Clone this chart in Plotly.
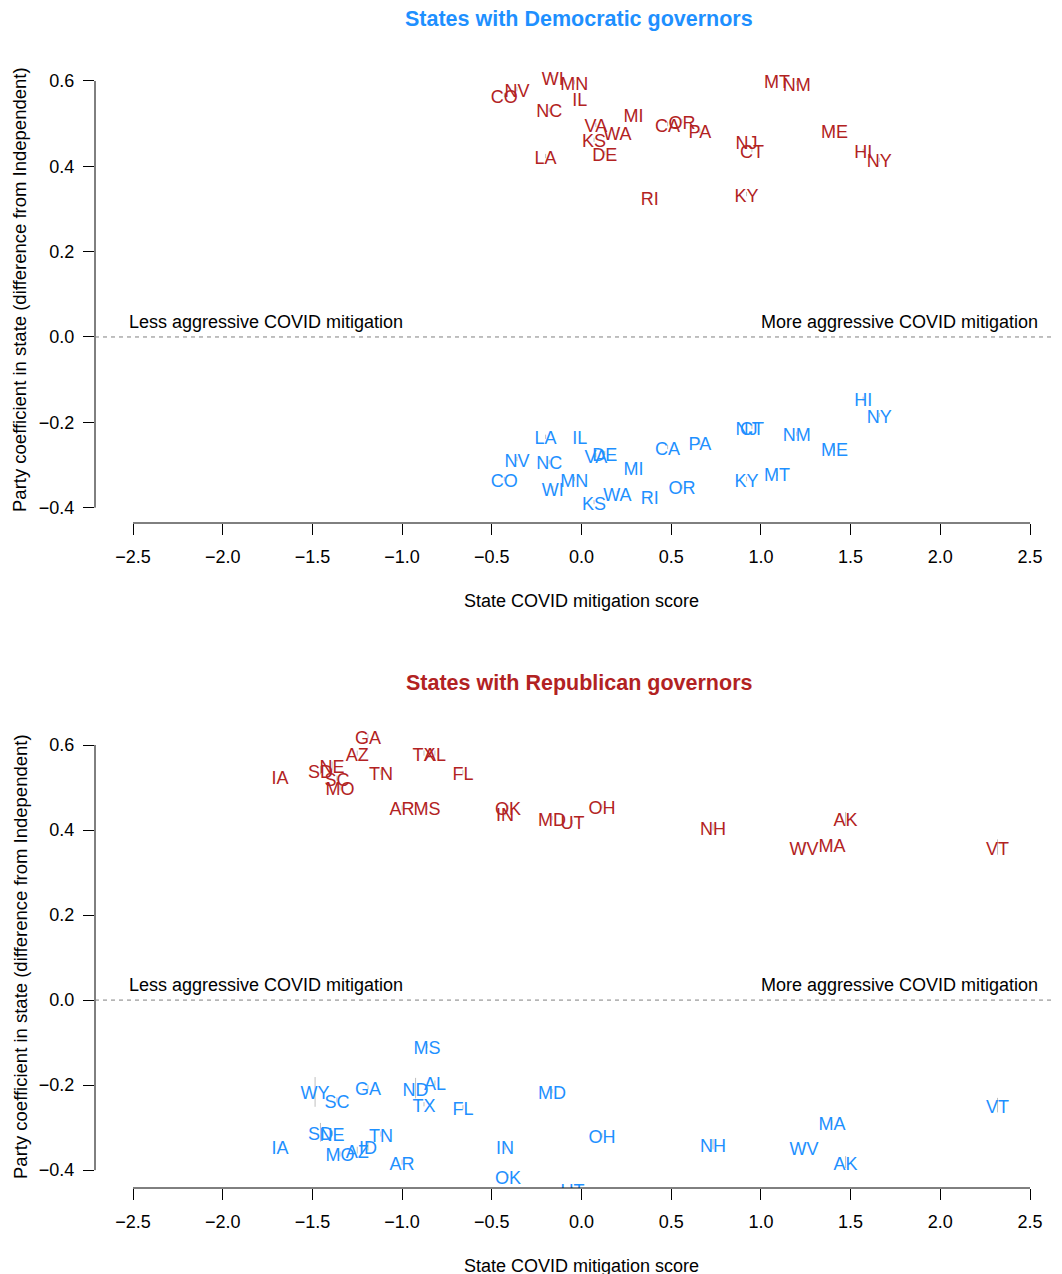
import plotly.graph_objects as go

RED = "#B22222"
BLUE = "#1E90FF"
FONT = "Liberation Sans, Arial, sans-serif"

# ---------------- Data: states with Democratic governors ----------------
dem_states = ["CO", "NV", "WI", "MN", "IL", "NC", "VA", "WA", "KS", "DE", "LA", "MI",
              "CA", "OR", "PA", "NJ", "CT", "RI", "KY", "MT", "NM", "ME", "HI", "NY"]
dem_score = [-0.43, -0.36, -0.16, -0.04, -0.01, -0.18, 0.08, 0.20, 0.07, 0.13, -0.20, 0.29,
             0.48, 0.56, 0.66, 0.92, 0.95, 0.38, 0.92, 1.09, 1.20, 1.41, 1.57, 1.66]
dem_rep_coef = [0.567, 0.581, 0.609, 0.597, 0.558, 0.532, 0.497, 0.480, 0.462, 0.431, 0.424, 0.522,
                0.499, 0.506, 0.483, 0.457, 0.438, 0.326, 0.335, 0.602, 0.595, 0.485, 0.436, 0.415]
dem_rep_err = [0.005] * 24
dem_dem_coef = [-0.333, -0.286, -0.354, -0.333, -0.234, -0.293, -0.277, -0.366, -0.387, -0.272, -0.234, -0.305,
                -0.258, -0.351, -0.248, -0.211, -0.211, -0.375, -0.333, -0.321, -0.227, -0.262, -0.145, -0.183]
dem_dem_err = [0.005] * 24

# ---------------- Data: states with Republican governors ----------------
rep_states = ["IA", "SD", "WY", "NE", "SC", "MO", "AZ", "GA", "ID", "TN", "AR", "ND", "TX",
              "MS", "AL", "FL", "OK", "IN", "MD", "UT", "OH", "NH", "WV", "MA", "AK", "VT"]
rep_score = [-1.68, -1.455, -1.485, -1.39, -1.363, -1.346, -1.25, -1.19, -1.19, -1.118, -1.00, -0.925, -0.878,
             -0.861, -0.817, -0.661, -0.41, -0.426, -0.164, -0.05, 0.114, 0.733, 1.24, 1.396, 1.472, 2.319]
rep_rep_coef = [0.525, 0.541, None, 0.551, 0.522, 0.499, 0.581, 0.621, None, 0.536, 0.452, None, 0.581,
                0.452, 0.581, 0.536, 0.454, 0.440, 0.428, 0.419, 0.456, 0.407, 0.359, 0.367, 0.426, 0.360]
rep_rep_err = [0.005, 0.010, 0.0, 0.010, 0.006, 0.006, 0.006, 0.005, 0.0, 0.006, 0.006, 0.0, 0.006,
               0.005, 0.006, 0.005, 0.005, 0.006, 0.005, 0.005, 0.005, 0.008, 0.012, 0.010, 0.016, 0.018]
rep_dem_coef = [-0.344, -0.311, -0.216, -0.313, -0.235, -0.362, -0.353, -0.205, -0.344, -0.315, -0.381, -0.207, -0.245,
                -0.108, -0.195, -0.252, -0.414, -0.344, -0.214, -0.446, -0.318, -0.339, -0.346, -0.289, -0.381, -0.247]
rep_dem_err = [0.005, 0.022, 0.035, 0.006, 0.006, 0.006, 0.008, 0.005, 0.010, 0.006, 0.006, 0.024, 0.005,
               0.005, 0.006, 0.005, 0.005, 0.008, 0.005, 0.005, 0.005, 0.012, 0.006, 0.006, 0.014, 0.017]

x_ticks = [-2.5, -2.0, -1.5, -1.0, -0.5, 0.0, 0.5, 1.0, 1.5, 2.0, 2.5]
y_ticks = [-0.4, -0.2, 0.0, 0.2, 0.4, 0.6]

panels = [
    dict(title="States with Democratic governors", tcolor=BLUE, states=dem_states, score=dem_score,
         rep=dem_rep_coef, rep_err=dem_rep_err, dem=dem_dem_coef, dem_err=dem_dem_err,
         xa="x", ya="y", ta="y3"),
    dict(title="States with Republican governors", tcolor=RED, states=rep_states, score=rep_score,
         rep=rep_rep_coef, rep_err=rep_rep_err, dem=rep_dem_coef, dem_err=rep_dem_err,
         xa="x2", ya="y2", ta="y4"),
]

fig = go.Figure()
OFF = 8                      # page body margin offset
W, H = 1062 - OFF, 1274 - OFF

for p in panels:
    for coef, err, col in [(p["rep"], p["rep_err"], RED), (p["dem"], p["dem_err"], BLUE)]:
        # faint interval lines
        fig.add_trace(go.Scatter(
            x=p["score"], y=coef, mode="markers",
            marker=dict(size=1, color="rgba(0,0,0,0)"),
            error_y=dict(type="data", array=err, visible=True, width=0, thickness=1,
                         color="rgba(140,140,140,0.55)"),
            xaxis=p["xa"], yaxis=p["ya"], showlegend=False, hoverinfo="skip"))
        # state labels (on a twin axis nudged so glyphs are vertically centred like R's text())
        fig.add_trace(go.Scatter(
            x=p["score"], y=coef, mode="text", text=p["states"],
            textposition="middle center",
            textfont=dict(family=FONT, size=18, color=col),
            cliponaxis=True,
            xaxis=p["xa"], yaxis=p["ta"], showlegend=False))

# plot regions (reference-window pixels)
top_px = (60, 523)
bot_px = (722, 1188)
x_px = (95, 1058)
x_range = [(x_px[0] - 581.5) / 179.4, (x_px[1] - 581.5) / 179.4]
top_range = [-0.436, (337 - top_px[0]) / 426.7]
bot_range = [-0.442, (1000 - bot_px[0]) / 425.0]
nudge_top = 3.0 / 426.7
nudge_bot = 3.0 / 425.0

def fy(py):
    return 1 - (py - OFF) / H

def fx(px):
    return (px - OFF) / W

def dom(px):
    return [fy(px[1]), fy(px[0])]

axis_common = dict(showgrid=False, zeroline=False, showline=False, ticks="outside",
                   ticklen=11, tickwidth=1, tickcolor="black",
                   tickfont=dict(family=FONT, size=18, color="black"))

fig.update_layout(
    width=W, height=H, margin=dict(l=0, r=0, t=0, b=0),
    paper_bgcolor="white", plot_bgcolor="white",
    xaxis=dict(domain=[fx(x_px[0]), min(1, fx(x_px[1]))], range=x_range, anchor="y",
               tickvals=x_ticks, tickformat=".1f", ticklabelstandoff=6, **axis_common),
    yaxis=dict(domain=dom(top_px), range=top_range, anchor="x",
               tickvals=y_ticks, tickformat=".1f", ticklabelstandoff=5, **axis_common),
    xaxis2=dict(domain=[fx(x_px[0]), min(1, fx(x_px[1]))], range=x_range, anchor="y2",
                tickvals=x_ticks, tickformat=".1f", ticklabelstandoff=6, **axis_common),
    yaxis2=dict(domain=dom(bot_px), range=bot_range, anchor="x2",
                tickvals=y_ticks, tickformat=".1f", ticklabelstandoff=5, **axis_common),
    yaxis3=dict(domain=dom(top_px), overlaying="y", anchor="x", visible=False,
                range=[top_range[0] + nudge_top, top_range[1] + nudge_top]),
    yaxis4=dict(domain=dom(bot_px), overlaying="y2", anchor="x2", visible=False,
                range=[bot_range[0] + nudge_bot, bot_range[1] + nudge_bot]),
)

shapes = []
annotations = []
for p, px, sfx, ymid in [(panels[0], top_px, "", 290), (panels[1], bot_px, "2", 957)]:
    xr, yr = "x" + sfx, "y" + sfx
    # R-style axis lines spanning first to last tick
    shapes.append(dict(type="line", xref=xr, yref=yr + " domain", x0=x_ticks[0], x1=x_ticks[-1],
                       y0=0, y1=0, line=dict(color="black", width=1)))
    shapes.append(dict(type="line", xref=xr + " domain", yref=yr, x0=0, x1=0,
                       y0=y_ticks[0], y1=y_ticks[-1], line=dict(color="black", width=1)))
    # zero reference line
    shapes.append(dict(type="line", xref=xr + " domain", yref=yr, x0=0, x1=1, y0=0, y1=0,
                       line=dict(color="#808080", width=1, dash="4px,4px")))
    annotations.append(dict(xref=xr, yref=yr, x=-2.535, y=0.035, xanchor="left", yanchor="middle",
                            text="Less aggressive COVID mitigation", showarrow=False,
                            font=dict(family=FONT, size=18, color="black")))
    annotations.append(dict(xref=xr, yref=yr, x=2.558, y=0.035, xanchor="right", yanchor="middle",
                            text="More aggressive COVID mitigation", showarrow=False,
                            font=dict(family=FONT, size=18, color="black")))
    # title
    annotations.append(dict(xref="paper", yref="paper", x=fx(579), y=fy(19 if sfx == "" else 683),
                            xanchor="center", yanchor="middle", text="<b>%s</b>" % p["title"],
                            showarrow=False, font=dict(family=FONT, size=21.5, color=p["tcolor"])))
    # x axis title
    annotations.append(dict(xref="paper", yref="paper", x=fx(581), y=fy(px[1] + 78),
                            xanchor="center", yanchor="middle", text="State COVID mitigation score",
                            showarrow=False, font=dict(family=FONT, size=18, color="black")))
    # y axis title
    annotations.append(dict(xref="paper", yref="paper", x=fx(20), y=fy(ymid),
                            xanchor="center", yanchor="middle", textangle=-90,
                            text="Party coefficient in state (difference from Independent)",
                            showarrow=False, font=dict(family=FONT, size=18.5, color="black")))

fig.update_layout(shapes=shapes, annotations=annotations)
fig.write_html("out.html")
